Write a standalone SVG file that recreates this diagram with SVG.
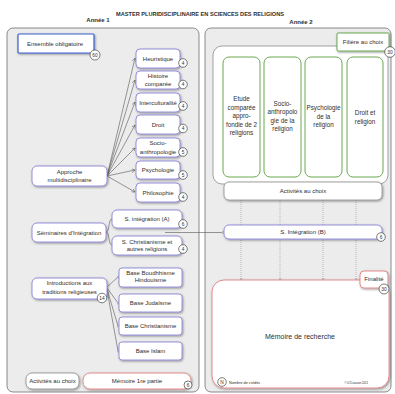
<svg xmlns="http://www.w3.org/2000/svg" width="395" height="394" viewBox="0 0 395 394">
<style>
text{font-family:"Liberation Sans",Arial,sans-serif;fill:#2e2e2e;font-size:6px;text-anchor:middle}
.title{font-weight:bold;font-size:5.6px}
.yr{font-weight:bold;font-size:6px}
.col{font-size:6.3px}
.panel{fill:#ececec;stroke:#6f6f6f;stroke-width:0.8}
.pu{fill:#fff;stroke:#8c86d8;stroke-width:0.9}
.gr{fill:#fff;stroke:#6aa84f;stroke-width:1}
.gy{fill:#fff;stroke:#8a8a8a;stroke-width:0.8}
.pk{fill:#fff;stroke:#e08c8c;stroke-width:1}
.bl{fill:#fff;stroke:#3a5fcd;stroke-width:1.2}
.bd{fill:#fff;stroke:#444;stroke-width:0.7}
.bt{font-size:4.8px}
.ln{fill:none;stroke:#555;stroke-width:0.6}
.dot{fill:none;stroke:#999;stroke-width:0.6;stroke-dasharray:1,1}
.sh{filter:url(#shadow)}
</style>
<defs>
<filter id="shadow" x="-20%" y="-20%" width="140%" height="150%">
<feDropShadow dx="0.8" dy="1" stdDeviation="0.8" flood-color="#000" flood-opacity="0.4"/>
</filter>
<marker id="arr" markerWidth="4" markerHeight="4" refX="3.5" refY="2" orient="auto" markerUnits="userSpaceOnUse">
<path d="M0,0 L3.5,2 L0,4" fill="none" stroke="#555" stroke-width="0.5"/>
</marker>
<marker id="cir" markerWidth="3" markerHeight="3" refX="1.5" refY="1.5" markerUnits="userSpaceOnUse">
<circle cx="1.5" cy="1.5" r="1" fill="#fff" stroke="#555" stroke-width="0.4"/>
</marker>
</defs>

<text class="title" x="200" y="16">MASTER PLURIDISCIPLINAIRE EN SCIENCES DES RELIGIONS</text>
<text class="yr" x="98" y="22">Année 1</text>
<text class="yr" x="301" y="24">Année 2</text>

<rect class="panel" x="7" y="28" width="192" height="364" rx="6"/>
<rect class="panel" x="205" y="28" width="186" height="364" rx="6"/>
<rect class="gy" x="213" y="46" width="175" height="138" rx="9"/>

<g id="connectors">
<line class="ln" x1="107" y1="176" x2="135" y2="58" marker-end="url(#arr)"/>
<line class="ln" x1="107" y1="176" x2="135" y2="80" marker-end="url(#arr)"/>
<line class="ln" x1="107" y1="176" x2="135" y2="102" marker-end="url(#arr)"/>
<line class="ln" x1="107" y1="176" x2="135" y2="125" marker-end="url(#arr)"/>
<line class="ln" x1="107" y1="176" x2="135" y2="148" marker-end="url(#arr)"/>
<line class="ln" x1="107" y1="176" x2="135" y2="170" marker-end="url(#arr)"/>
<line class="ln" x1="107" y1="176" x2="135" y2="192" marker-end="url(#arr)"/>
<path class="ln" d="M106,232 C110,232 108,219 112,219"/>
<path class="ln" d="M106,232 C110,232 108,245 112,245"/>
<line class="ln" x1="165" y1="232.5" x2="223" y2="232.5" marker-end="url(#cir)"/>
<line class="ln" x1="107" y1="287" x2="118" y2="277" marker-end="url(#cir)"/>
<line class="ln" x1="107" y1="288" x2="118" y2="303" marker-end="url(#cir)"/>
<line class="ln" x1="107" y1="289" x2="118" y2="326" marker-end="url(#cir)"/>
<line class="ln" x1="107" y1="290" x2="118" y2="351" marker-end="url(#cir)"/>
<line class="dot" x1="241" y1="200" x2="241" y2="279" marker-end="url(#cir)"/>
<line class="dot" x1="280" y1="200" x2="280" y2="279" marker-end="url(#cir)"/>
<line class="dot" x1="323" y1="200" x2="323" y2="279" marker-end="url(#cir)"/>
<line class="dot" x1="356" y1="200" x2="356" y2="279" marker-end="url(#cir)"/>
</g>

<g id="ensemble">
<rect class="bl sh" x="18" y="34" width="76" height="19" rx="1"/>
<text x="55" y="45.5">Ensemble obligatoire</text>
<circle class="bd" cx="95" cy="55" r="5"/><text class="bt" x="95" y="56.8">60</text>
</g>

<g id="heuristique">
<rect class="pu sh" x="136" y="49" width="44" height="19" rx="4"/>
<text x="158" y="60.5">Heuristique</text>
<circle class="bd" cx="183" cy="63" r="4.3"/><text class="bt" x="183" y="64.7">4</text>
</g>
<g id="histoire">
<rect class="pu sh" x="136" y="71" width="44" height="18" rx="4"/>
<text x="158" y="78">Histoire</text><text x="158" y="86">comparée</text>
<circle class="bd" cx="183" cy="84.5" r="4.3"/><text class="bt" x="183" y="86.2">4</text>
</g>
<g id="interculturalite">
<rect class="pu sh" x="136" y="93" width="44" height="19" rx="4"/>
<text x="158" y="104.5">Interculturalité</text>
<circle class="bd" cx="183" cy="106" r="4.3"/><text class="bt" x="183" y="107.7">4</text>
</g>
<g id="droit">
<rect class="pu sh" x="136" y="115" width="44" height="19" rx="4"/>
<text x="158" y="127">Droit</text>
<circle class="bd" cx="183" cy="128.5" r="4.3"/><text class="bt" x="183" y="130.2">4</text>
</g>
<g id="socio">
<rect class="pu sh" x="136" y="138" width="44" height="19" rx="4"/>
<text x="158" y="145">Socio-</text><text x="158" y="153.5">anthropologie</text>
<circle class="bd" cx="183" cy="152" r="4.3"/><text class="bt" x="183" y="153.7">5</text>
</g>
<g id="psychologie">
<rect class="pu sh" x="136" y="161" width="44" height="18" rx="4"/>
<text x="158" y="172">Psychologie</text>
<circle class="bd" cx="183" cy="175" r="4.3"/><text class="bt" x="183" y="176.7">5</text>
</g>
<g id="philosophie">
<rect class="pu sh" x="136" y="183" width="44" height="19" rx="4"/>
<text x="158" y="195">Philosophie</text>
<circle class="bd" cx="183" cy="197" r="4.3"/><text class="bt" x="183" y="198.7">4</text>
</g>

<g id="approche">
<rect class="pu sh" x="32" y="166" width="75" height="20" rx="5"/>
<text x="69.5" y="174">Approche</text><text x="69.5" y="181.5">multidisciplinaire</text>
</g>

<g id="seminaires">
<rect class="pu sh" x="32" y="223" width="74" height="19" rx="5"/>
<text x="69" y="234.5">Séminaires d'Intégration</text>
</g>
<g id="sintA">
<rect class="pu sh" x="112" y="210" width="70" height="18" rx="5"/>
<text x="147" y="221">S. intégration (A)</text>
<circle class="bd" cx="183" cy="224" r="4.3"/><text class="bt" x="183" y="225.7">6</text>
</g>
<g id="schrist">
<rect class="pu sh" x="112" y="236" width="70" height="19" rx="5"/>
<text x="147" y="243.5">S. Christianisme et</text><text x="147" y="251">autres religions</text>
<circle class="bd" cx="183" cy="249" r="4.3"/><text class="bt" x="183" y="250.7">4</text>
</g>

<g id="introductions">
<rect class="pu sh" x="32" y="278" width="75" height="21" rx="5"/>
<text x="69.5" y="285">Introductions aux</text><text x="69.5" y="294">traditions religieuses</text>
<circle class="bd" cx="102" cy="298" r="4.8"/><text class="bt" x="102" y="299.7">14</text>
</g>
<g id="bouddhisme">
<rect class="pu sh" x="119" y="268" width="63" height="19" rx="3"/>
<text x="150.5" y="274.5">Base Boudhhisme</text><text x="150.5" y="282">Hindouisme</text>
</g>
<g id="judaisme">
<rect class="pu sh" x="119" y="294" width="63" height="18" rx="3"/>
<text x="150.5" y="305">Base Judaïsme</text>
</g>
<g id="christianisme">
<rect class="pu sh" x="119" y="317" width="63" height="18" rx="3"/>
<text x="150.5" y="328">Base Christianisme</text>
</g>
<g id="islam">
<rect class="pu sh" x="119" y="342" width="63" height="18" rx="3"/>
<text x="150.5" y="353">Base Islam</text>
</g>

<g id="activites1">
<rect class="gy sh" x="26" y="373" width="53" height="16" rx="6"/>
<text x="52.5" y="383">Activités au choix</text>
</g>
<g id="memoire1">
<rect class="pk sh" x="83" y="373" width="108" height="16" rx="7"/>
<text x="137" y="383">Mémoire 1re partie</text>
<circle class="bd" cx="188" cy="385" r="4"/><text class="bt" x="188" y="386.7">6</text>
</g>

<g id="filiere">
<rect class="gr sh" x="337" y="33" width="52" height="18" rx="1"/>
<text x="363" y="44">Filière au choix</text>
<circle class="bd" cx="390" cy="52" r="5.3"/><text class="bt" x="390" y="53.7">30</text>
</g>
<g id="etude">
<rect class="gr" x="223" y="57" width="37" height="120" rx="6"/>
<text class="col" x="241.5" y="101">Etude</text><text class="col" x="241.5" y="109.5">comparée</text><text class="col" x="241.5" y="118">appro-</text><text class="col" x="241.5" y="126.5">fondie de 2</text><text class="col" x="241.5" y="135">religions</text>
</g>
<g id="socioanthro">
<rect class="gr" x="264" y="57" width="37" height="120" rx="6"/>
<text class="col" x="282.5" y="105.5">Socio-</text><text class="col" x="282.5" y="114">anthropolo</text><text class="col" x="282.5" y="122.5">gie de la</text><text class="col" x="282.5" y="131">religion</text>
</g>
<g id="psychorel">
<rect class="gr" x="305" y="57" width="37" height="120" rx="6"/>
<text class="col" x="323.5" y="110">Psychologie</text><text class="col" x="323.5" y="118.5">de la</text><text class="col" x="323.5" y="127">religion</text>
</g>
<g id="droitrel">
<rect class="gr" x="347" y="57" width="36" height="120" rx="6"/>
<text class="col" x="365" y="115">Droit et</text><text class="col" x="365" y="123.5">religion</text>
</g>

<g id="activites2">
<rect class="gy sh" x="224" y="182" width="158" height="18" rx="5"/>
<text x="303" y="193">Activités au choix</text>
</g>
<g id="sintB">
<rect class="pu sh" x="224" y="225" width="158" height="14" rx="5"/>
<text x="303" y="234">S. Intégration (B)</text>
<circle class="bd" cx="381" cy="237" r="4.3"/><text class="bt" x="381" y="238.7">6</text>
</g>

<g id="memoire2">
<rect class="pk sh" x="212" y="280" width="177" height="108" rx="12"/>
<text x="300" y="338.5" style="font-size:7px">Mémoire de recherche</text>
</g>
<g id="finalite">
<rect class="pk sh" x="360" y="271" width="28" height="17" rx="4"/>
<text x="374" y="281">Finalité</text>
<circle class="bd" cx="384" cy="289" r="5"/><text class="bt" x="384" y="290.7">30</text>
</g>

<g id="legend">
<circle class="bd" cx="222" cy="382" r="4.3"/><text class="bt" x="222" y="383.7">N</text>
<text x="229" y="383.5" style="font-size:3.8px;text-anchor:start">Nombre de crédits</text>
<text x="368" y="383.5" style="font-size:2.8px;text-anchor:end">© UCLouvain 2011</text>
</g>
</svg>
